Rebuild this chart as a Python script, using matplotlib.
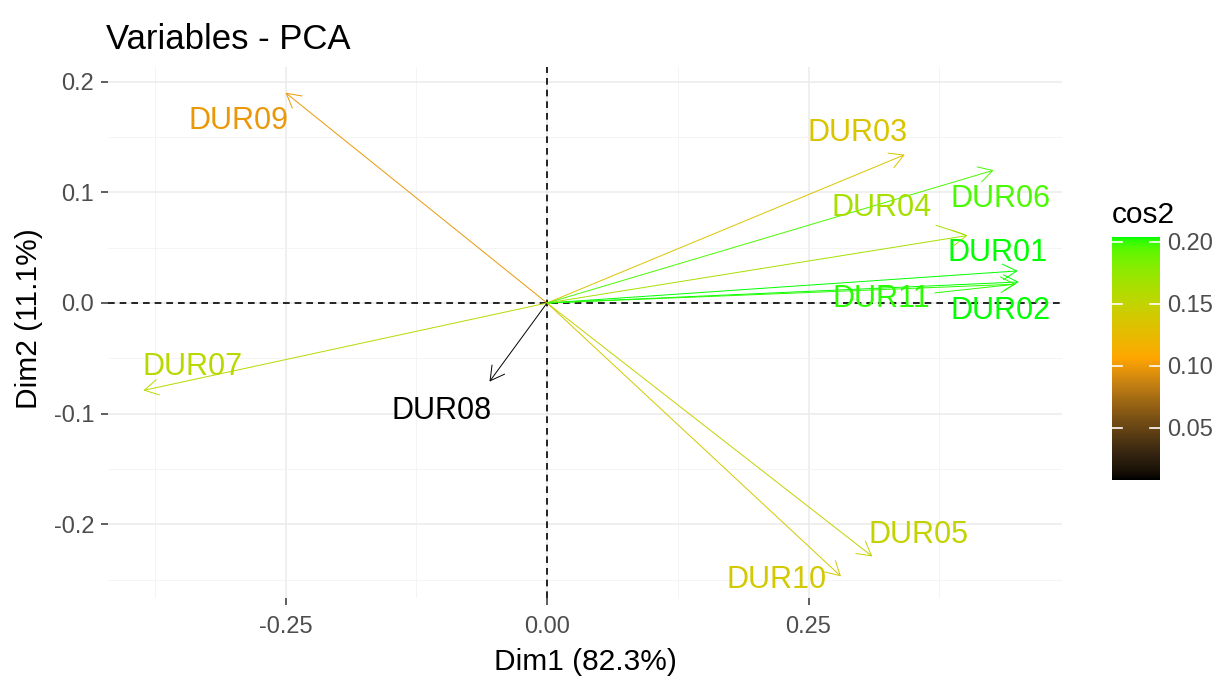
import matplotlib
matplotlib.use('Agg')
import matplotlib.pyplot as plt
import numpy as np
from matplotlib.colors import ListedColormap, Normalize, to_rgb

plt.rcParams['font.family'] = ['Liberation Sans', 'DejaVu Sans']

# Variable coordinates (arrow tips) on Dim1 / Dim2
names = ['DUR01', 'DUR02', 'DUR03', 'DUR04', 'DUR05', 'DUR06',
         'DUR07', 'DUR08', 'DUR09', 'DUR10', 'DUR11']
dim1 = [0.450, 0.451, 0.342, 0.402, 0.311, 0.427, -0.386, -0.055, -0.250, 0.281, 0.448]
dim2 = [0.029, 0.019, 0.134, 0.061, -0.229, 0.120, -0.079, -0.071, 0.190, -0.247, 0.017]

# Where the (repelled) labels ended up
label_x = [0.431, 0.434, 0.297, 0.320, 0.355, 0.434, -0.339, -0.101, -0.295, 0.219, 0.320]
label_y = [0.045, -0.007, 0.154, 0.086, -0.210, 0.094, -0.058, -0.098, 0.164, -0.250, 0.004]
with_segment = ['DUR04', 'DUR11']

gradient_cols = ['black', 'orange', '#00FF00']
cbar_ticks = [0.05, 0.10, 0.15, 0.20]


# sRGB <-> CIE Lab so the gradient is interpolated like ggplot does
def srgb_to_lab(rgb):
    rgb = np.asarray(rgb, dtype=float)
    lin = np.where(rgb <= 0.04045, rgb / 12.92, ((rgb + 0.055) / 1.055) ** 2.4)
    m = np.array([[0.4124, 0.3576, 0.1805],
                  [0.2126, 0.7152, 0.0722],
                  [0.0193, 0.1192, 0.9505]])
    xyz = lin @ m.T / np.array([0.95047, 1.0, 1.08883])
    f = np.where(xyz > 0.008856, np.cbrt(xyz), 7.787 * xyz + 16 / 116)
    return np.stack([116 * f[..., 1] - 16,
                     500 * (f[..., 0] - f[..., 1]),
                     200 * (f[..., 1] - f[..., 2])], axis=-1)


def lab_to_srgb(lab):
    lab = np.asarray(lab, dtype=float)
    fy = (lab[..., 0] + 16) / 116
    fx = fy + lab[..., 1] / 500
    fz = fy - lab[..., 2] / 200
    f = np.stack([fx, fy, fz], axis=-1)
    xyz = np.where(f ** 3 > 0.008856, f ** 3, (f - 16 / 116) / 7.787)
    xyz = xyz * np.array([0.95047, 1.0, 1.08883])
    m_inv = np.array([[3.2406, -1.5372, -0.4986],
                      [-0.9689, 1.8758, 0.0415],
                      [0.0557, -0.2040, 1.0570]])
    lin = np.clip(xyz @ m_inv.T, 0, 1)
    rgb = np.where(lin <= 0.0031308, 12.92 * lin, 1.055 * lin ** (1 / 2.4) - 0.055)
    return np.clip(rgb, 0, 1)


anchors = srgb_to_lab([to_rgb(c) for c in gradient_cols])
t = np.linspace(0, 1, 256)
pos = np.linspace(0, 1, len(anchors))
lab = np.stack([np.interp(t, pos, anchors[:, k]) for k in range(3)], axis=-1)
cmap = ListedColormap(lab_to_srgb(lab))

x = np.array(dim1)
y = np.array(dim2)
cos2 = x ** 2 + y ** 2
norm = Normalize(vmin=cos2.min(), vmax=cos2.max())

fig = plt.figure(figsize=(12.25, 6.81), dpi=100)
ax = fig.add_axes([0.0882, 0.1219, 0.7788, 0.7797])

for i, name in enumerate(names):
    col = cmap(norm(cos2[i]))
    ax.annotate('', xy=(x[i], y[i]), xytext=(0, 0),
                arrowprops=dict(arrowstyle='->,head_length=0.5,head_width=0.28',
                                color=col, lw=0.7, mutation_scale=20,
                                shrinkA=0, shrinkB=0),
                zorder=3)
    if name in with_segment:
        ax.annotate(name, xy=(x[i], y[i]), xytext=(label_x[i], label_y[i]),
                    color=col, fontsize=22, ha='center', va='center', zorder=4,
                    arrowprops=dict(arrowstyle='-', color=col, lw=0.7,
                                    shrinkA=1, shrinkB=2))
    else:
        ax.text(label_x[i], label_y[i], name, color=col, fontsize=22,
                ha='center', va='center', zorder=4)

ax.axhline(0, color='black', ls=(0, (4, 3)), lw=1.2, zorder=2)
ax.axvline(0, color='black', ls=(0, (4, 3)), lw=1.2, zorder=2)

ax.set_xlim(-0.4197, 0.4924)
ax.set_ylim(-0.2665, 0.2132)
ax.set_xticks([-0.25, 0.0, 0.25])
ax.set_xticklabels(['-0.25', '0.00', '0.25'])
ax.set_yticks([-0.2, -0.1, 0.0, 0.1, 0.2])
ax.set_yticklabels(['-0.2', '-0.1', '0.0', '0.1', '0.2'])
ax.set_xticks([-0.375, -0.125, 0.125, 0.375], minor=True)
ax.set_yticks([-0.25, -0.15, -0.05, 0.05, 0.15], minor=True)
ax.grid(which='major', color='#EBEBEB', lw=1.1, zorder=0)
ax.grid(which='minor', color='#F3F3F3', lw=0.6, zorder=0)
ax.tick_params(which='minor', length=0)
ax.tick_params(which='major', length=5, width=1.1, color='#333333',
               labelcolor='#4D4D4D', labelsize=17)
ax.tick_params(axis='x', pad=8)
ax.tick_params(axis='y', pad=5)
for s in ax.spines.values():
    s.set_visible(False)

ax.set_xlabel('Dim1 (82.3%)', fontsize=21.5, color='black', labelpad=7)
ax.set_ylabel('Dim2 (11.1%)', fontsize=21.5, color='black', labelpad=6)
ax.yaxis.set_label_coords(-0.068, 0.527)
ax.set_title('Variables - PCA', fontsize=25, loc='left', x=-0.002, pad=13)

# colour bar legend
cax = fig.add_axes([0.9078, 0.2952, 0.0392, 0.3568])
sm = plt.cm.ScalarMappable(norm=norm, cmap=cmap)
cb = fig.colorbar(sm, cax=cax, ticks=cbar_ticks)
cb.outline.set_visible(False)
cb.ax.set_yticklabels(['0.05', '0.10', '0.15', '0.20'])
cb.ax.tick_params(length=0, labelsize=17, labelcolor='#4D4D4D', pad=5)
for v in cbar_ticks:
    cb.ax.plot([0, 0.2], [v, v], color='white', lw=1.2, transform=cb.ax.get_yaxis_transform())
    cb.ax.plot([0.8, 1.0], [v, v], color='white', lw=1.2, transform=cb.ax.get_yaxis_transform())
cax.set_title('cos2', fontsize=21.5, loc='left', pad=10)

fig.savefig('out.png', dpi=100)
